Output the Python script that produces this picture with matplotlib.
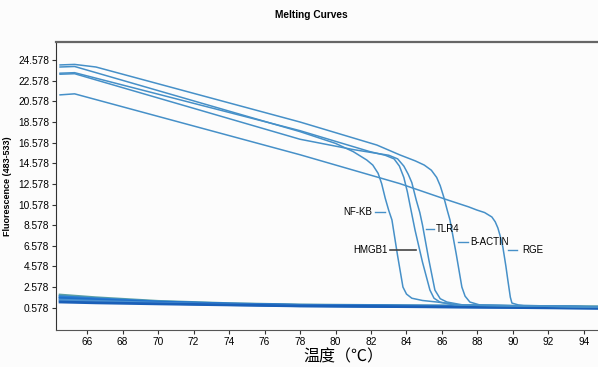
import matplotlib.pyplot as plt
import numpy as np

# melting curves, temperature (C) vs fluorescence
nfkb_t = [64.48, 65.3, 78.0, 80.0, 81.0, 81.76, 82.1, 82.4, 82.6, 82.8, 83.0, 83.18,
          83.5, 83.8, 84.0, 84.3, 84.9, 85.72, 87.0, 94.79]
nfkb_f = [23.9, 23.95, 17.64, 16.5, 15.7, 14.89, 14.4, 13.6, 12.6, 11.2, 10.0, 9.08,
          5.6, 2.58, 1.9, 1.5, 1.28, 1.13, 0.84, 0.65]

hmgb1_t = [64.48, 65.3, 78.0, 81.94, 82.8, 83.3, 83.6, 83.85, 84.05, 84.2, 84.48,
           84.9, 85.32, 85.55, 85.88, 86.73, 94.79]
hmgb1_f = [23.3, 23.35, 17.73, 15.7, 15.35, 15.0, 14.3, 13.2, 11.8, 10.5, 8.11,
           5.0, 2.29, 1.5, 1.13, 0.84, 0.65]

tlr4_t = [64.48, 65.3, 78.0, 81.0, 83.0, 83.5, 83.85, 84.1, 84.3, 84.55, 84.75, 84.9,
          85.25, 85.6, 85.9, 86.28, 87.2, 94.79]
tlr4_f = [23.2, 23.25, 16.9, 15.9, 15.35, 15.0, 14.3, 13.5, 12.7, 11.0, 9.8, 8.6,
          5.3, 2.29, 1.45, 1.13, 0.84, 0.65]

bactin_t = [64.48, 65.3, 66.5, 78.0, 82.33, 83.63, 84.5, 85.0, 85.4, 85.7, 85.9, 86.1,
            86.3, 86.45, 86.8, 87.12, 87.3, 87.57, 88.14, 94.79]
bactin_f = [24.1, 24.15, 23.9, 18.57, 16.34, 15.38, 14.8, 14.4, 13.9, 13.2, 12.4, 11.3,
            10.0, 9.08, 5.8, 2.58, 1.7, 1.13, 0.84, 0.65]

rge_t = [64.48, 65.3, 78.0, 83.63, 86.33, 87.5, 87.97, 88.4, 88.81, 89.0, 89.15, 89.3,
         89.43, 89.6, 89.71, 89.85, 89.94, 90.3, 90.6, 94.79]
rge_f = [21.2, 21.3, 15.4, 12.6, 11.01, 10.35, 10.04, 9.8, 9.37, 8.9, 8.3, 7.4,
         6.45, 4.6, 3.25, 1.6, 1.03, 0.85, 0.8, 0.65]

# negative controls sitting at the bottom
base_t = [64.48, 66.5, 70.0, 74.0, 78.0, 84.0, 90.0, 94.79]
base_1 = [1.81, 1.55, 1.2, 0.98, 0.85, 0.78, 0.72, 0.68]
base_2 = [1.65, 1.45, 1.15, 0.95, 0.82, 0.75, 0.70, 0.62]
base_3 = [1.50, 1.35, 1.10, 0.92, 0.80, 0.72, 0.66, 0.58]
base_4 = [1.32, 1.20, 1.02, 0.88, 0.77, 0.70, 0.63, 0.55]
base_5 = [1.13, 1.05, 0.95, 0.85, 0.75, 0.68, 0.60, 0.52]

y_ticks = [0.578, 2.578, 4.578, 6.578, 8.578, 10.578, 12.578, 14.578, 16.578, 18.578, 20.578, 22.578, 24.578]
x_ticks = list(range(66, 95, 2))

plt.rcParams['font.family'] = ['Liberation Sans', 'DejaVu Sans']

fig = plt.figure(figsize=(5.98, 3.67), dpi=100, facecolor='#fcfcfc')
ax = fig.add_axes([0.0936, 0.1008, 0.9064, 0.7847], facecolor='#fcfcfc')

melt_col = '#4690c8'
base_cols = ['#5a9fa5', '#2d7fd4', '#1e6fc8', '#4a90d0', '#1a5fb8']
for col, b in zip(base_cols, [base_1, base_2, base_3, base_4, base_5]):
    ax.plot(base_t, b, color=col, lw=2.0)

for t, f in [(nfkb_t, nfkb_f), (hmgb1_t, hmgb1_f), (tlr4_t, tlr4_f), (bactin_t, bactin_f), (rge_t, rge_f)]:
    ax.plot(t, f, color=melt_col, lw=1.1, solid_joinstyle='round')

# curve labels with the little leader lines
ax.plot([82.22, 82.78], [9.88, 9.88], color=melt_col, lw=1)
ax.text(82.05, 9.88, 'NF-KB', fontsize=7, ha='right', va='center')
ax.plot([85.1, 85.56], [8.17, 8.17], color=melt_col, lw=1)
ax.text(85.66, 8.17, 'TLR4', fontsize=7, ha='left', va='center')
ax.plot([86.92, 87.48], [6.97, 6.97], color=melt_col, lw=1)
ax.text(87.61, 6.97, 'B-ACTIN', fontsize=7, ha='left', va='center')
ax.plot([89.71, 90.2], [6.17, 6.17], color=melt_col, lw=1)
ax.text(90.5, 6.17, 'RGE', fontsize=7, ha='left', va='center')
ax.plot([83.07, 84.53], [6.17, 6.17], color='#444444', lw=1.2)
ax.text(82.95, 6.17, 'HMGB1', fontsize=7, ha='right', va='center')

ax.set_xlim(64.25, 94.79)
ax.set_ylim(-1.58, 26.32)
ax.set_xticks(x_ticks)
ax.set_yticks(y_ticks)
ax.set_yticklabels([f'{v:.3f}' for v in y_ticks])
ax.tick_params(labelsize=7.3, length=3, width=0.8, color='#333333', pad=2)

ax.spines['right'].set_visible(False)
ax.spines['top'].set_color('#666666')
ax.spines['top'].set_linewidth(1.6)
ax.spines['left'].set_color('#333333')
ax.spines['bottom'].set_color('#555555')

ax.set_ylabel('Fluorescence (483-533)', fontsize=6.5, fontweight='bold', labelpad=4)
fig.text(311 / 598, 1 - 15 / 367, 'Melting Curves', fontsize=7.3, fontweight='bold', ha='center', va='center')
fig.text(343 / 598, 1 - 357 / 367, '温度（℃）', fontsize=11.5, ha='center', va='center',
         family=['Noto Sans CJK SC', 'DejaVu Sans'])

plt.savefig('out.png', dpi=100, facecolor=fig.get_facecolor())
